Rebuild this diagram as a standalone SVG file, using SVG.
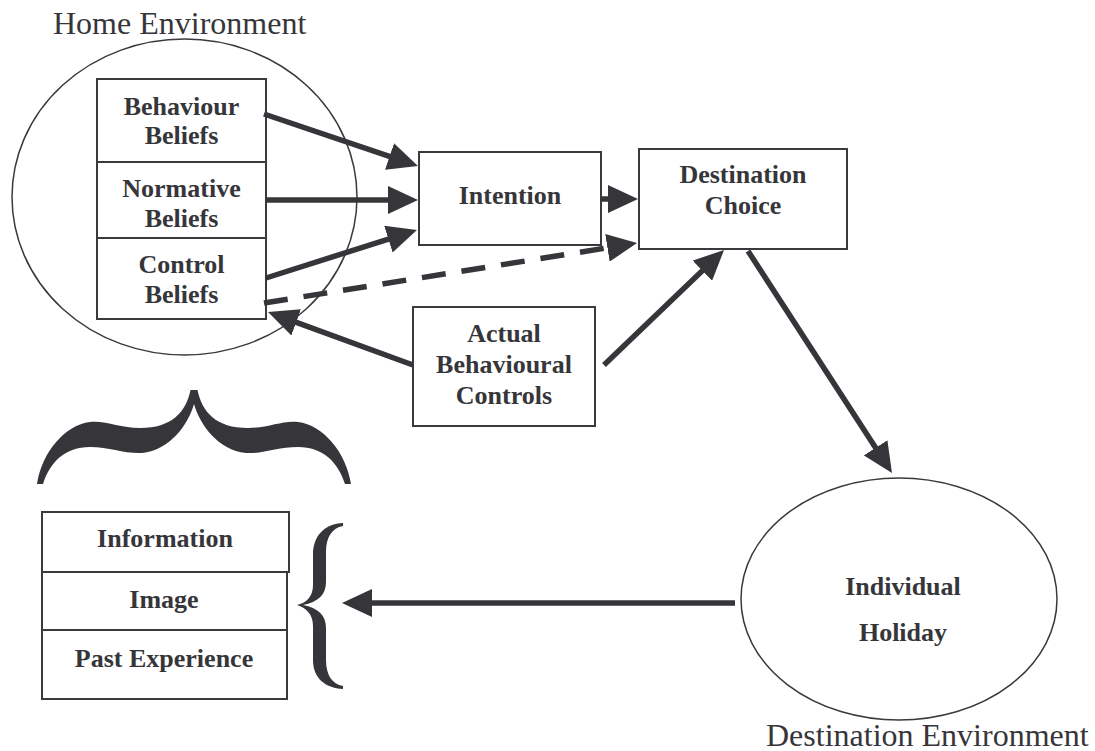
<svg xmlns="http://www.w3.org/2000/svg" width="1095" height="751" viewBox="0 0 1095 751">
<style>
.bg{fill:#ffffff}
.box{fill:#ffffff;stroke:#3a3a3e;stroke-width:2}
.ell{fill:none;stroke:#3a3a3e;stroke-width:1.5}
.lbl{font-family:"Liberation Serif","Times New Roman",serif;font-weight:bold;font-size:26px;fill:#36363a;text-anchor:middle}
.env{font-family:"Liberation Serif","Times New Roman",serif;font-size:32px;fill:#36363a}
.arr{stroke:#36363a;stroke-width:5.5;fill:none;marker-end:url(#ah)}
.dash{stroke-dasharray:24 16}
.brace{fill:#36363a}
</style>
<defs>
<marker id="ah" markerUnits="userSpaceOnUse" markerWidth="30" markerHeight="28" viewBox="0 0 30 28" refX="10" refY="14" orient="auto">
<path d="M0,0 L30,14 L0,28 Z" fill="#36363a"/>
</marker>
</defs>
<rect class="bg" x="0" y="0" width="1095" height="751"/>

<g id="home-environment">
<ellipse class="ell" cx="184.5" cy="197" rx="172.5" ry="158"/>
<text class="env" x="53" y="34">Home Environment</text>
</g>

<g id="behaviour-beliefs">
<rect class="box" x="97" y="79" width="169" height="83"/>
<text class="lbl" x="181.5" y="115">Behaviour</text>
<text class="lbl" x="181.5" y="144">Beliefs</text>
</g>

<g id="normative-beliefs">
<rect class="box" x="97" y="162" width="169" height="76"/>
<text class="lbl" x="181.5" y="197">Normative</text>
<text class="lbl" x="181.5" y="227">Beliefs</text>
</g>

<g id="control-beliefs">
<rect class="box" x="97" y="238" width="169" height="81"/>
<text class="lbl" x="181.5" y="273">Control</text>
<text class="lbl" x="181.5" y="303">Beliefs</text>
</g>

<g id="intention">
<rect class="box" x="419" y="152" width="182" height="93"/>
<text class="lbl" x="510" y="204">Intention</text>
</g>

<g id="destination-choice">
<rect class="box" x="639" y="149" width="208" height="100"/>
<text class="lbl" x="743" y="183">Destination</text>
<text class="lbl" x="743" y="214">Choice</text>
</g>

<g id="actual-behavioural-controls">
<rect class="box" x="413" y="307" width="182" height="119"/>
<text class="lbl" x="504" y="342">Actual</text>
<text class="lbl" x="504" y="373">Behavioural</text>
<text class="lbl" x="504" y="404">Controls</text>
</g>

<g id="individual-holiday">
<ellipse class="ell" cx="899" cy="599" rx="158" ry="121"/>
<text class="lbl" x="903" y="595">Individual</text>
<text class="lbl" x="903" y="641">Holiday</text>
<text class="env" x="766" y="746">Destination Environment</text>
</g>

<g id="information">
<rect class="box" x="42" y="512" width="247" height="60"/>
<text class="lbl" x="165" y="547">Information</text>
</g>

<g id="image">
<rect class="box" x="42" y="572" width="245" height="58"/>
<text class="lbl" x="164" y="608">Image</text>
</g>

<g id="past-experience">
<rect class="box" x="42" y="630" width="245" height="69"/>
<text class="lbl" x="164" y="667">Past Experience</text>
</g>

<g id="top-brace">
<path class="brace" d="M190.5,390 C186,412 172,428 140,428 C120,428 105,420 90,422 C65,425 42,452 37,484 L43,484 C50,462 65,447 90,447 C110,447 125,454 142,453 C170,450 188,425 194,404 C200,425 218,450 246,453 C263,454 278,447 298,447 C323,447 338,462 345,484 L351,484 C346,452 323,425 298,422 C283,420 268,428 248,428 C216,428 202,412 197.5,390 Z"/>
</g>

<g id="side-brace">
<path class="brace" d="M343,523 C325,524 313,535 313,555 L313,585 C313,597 306,603 297,605 C306,608 313,614 313,626 L313,660 C313,678 325,688 343,689 L343,686 C332,684 326,675 326,660 L326,628 C326,615 318,608 303,605 C318,602 326,595 326,582 L326,552 C326,537 332,528 343,526 Z"/>
</g>

<g id="connectors">
<line class="arr" x1="264" y1="114" x2="399" y2="159.6"/>
<line class="arr" x1="266" y1="200" x2="398" y2="200"/>
<line class="arr" x1="266" y1="278" x2="397.9" y2="236.1"/>
<line class="arr" x1="601" y1="199" x2="618" y2="199"/>
<line class="arr dash" x1="264" y1="303" x2="617.3" y2="246.2"/>
<line class="arr" x1="413" y1="365" x2="286.8" y2="318.9"/>
<line class="arr" x1="604" y1="365" x2="709.6" y2="263.8"/>
<line class="arr" x1="748" y1="251" x2="881.1" y2="456.2"/>
<line class="arr" x1="735" y1="603" x2="362" y2="603"/>
</g>
</svg>
